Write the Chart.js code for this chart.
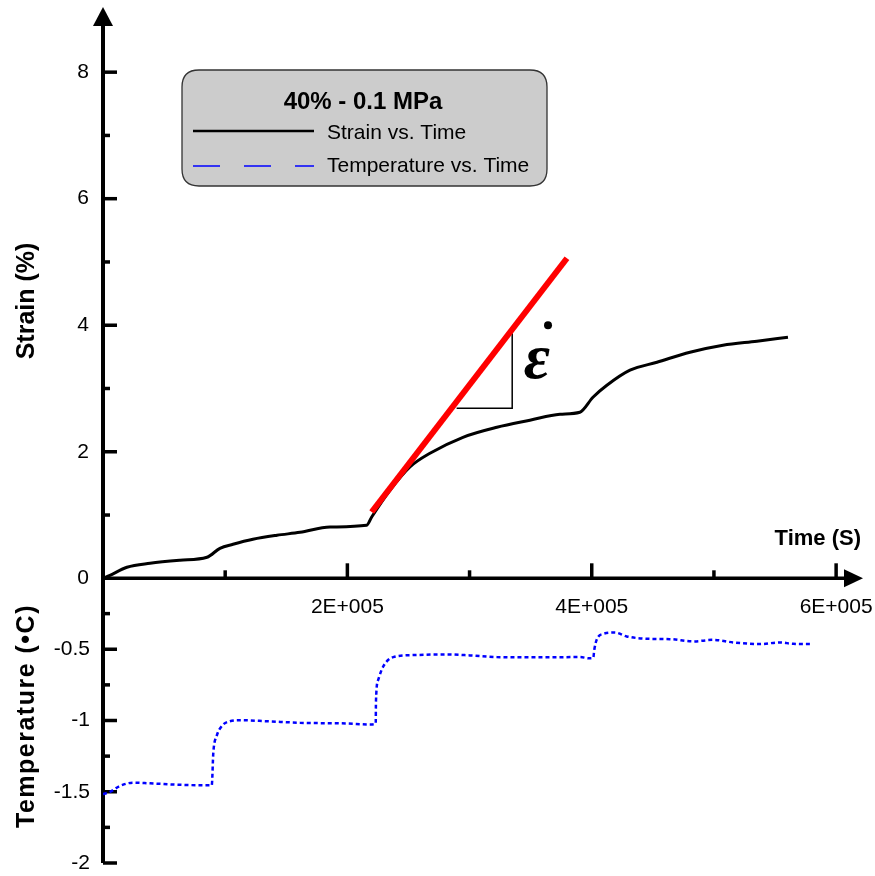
<!DOCTYPE html>
<html><head><meta charset="utf-8">
<script src="https://cdn.jsdelivr.net/npm/chart.js@4/dist/chart.umd.min.js"></script>
<style>html,body{margin:0;padding:0;background:#fff;}#wrap{width:875px;height:876px;}</style>
</head><body><div id="wrap"><canvas id="c" width="875" height="876"></canvas></div>
<script>
// ---- data (time in seconds) ----
const strainTime = [0, 5700, 19600, 38500, 63000, 85100, 95700, 106400, 122700, 142400, 161200, 185800, 215800, 219900, 234900, 251200, 267600, 294600, 322400, 349400, 374000, 390300, 401000, 412400, 431300, 453400, 480400, 507400, 535200, 560600];
const strainValues = [0, 0.047, 0.174, 0.237, 0.285, 0.332, 0.474, 0.538, 0.617, 0.680, 0.727, 0.811, 0.838, 0.969, 1.391, 1.760, 1.976, 2.229, 2.387, 2.498, 2.593, 2.625, 2.862, 3.051, 3.289, 3.415, 3.573, 3.684, 3.747, 3.810];
const tempTime = [0, 5700, 13900, 24800, 38500, 65700, 89000, 90300, 93000, 97100, 103900, 112100, 134000, 161200, 199400, 218500, 223200, 223400, 225300, 229400, 237600, 253900, 281300, 300300, 322200, 349400, 390300, 398500, 401200, 402100, 404000, 409400, 419000, 428600, 447600, 464000, 483100, 499400, 515800, 537600, 554000, 564900, 580000];
const tempValues = [-1.517, -1.501, -1.459, -1.436, -1.441, -1.452, -1.455, -1.224, -1.110, -1.040, -1.005, -0.998, -1.005, -1.016, -1.021, -1.028, -1.023, -0.865, -0.713, -0.620, -0.555, -0.541, -0.536, -0.543, -0.555, -0.557, -0.555, -0.564, -0.562, -0.503, -0.434, -0.392, -0.383, -0.410, -0.427, -0.429, -0.445, -0.434, -0.452, -0.464, -0.452, -0.462, -0.464];
const fitTime = [219900, 379700];
const fitStrain = [1.048, 5.059];
const slopeTime = [289400, 334900, 334900];
const slopeStrain = [2.688, 2.688, 3.873];
// ---- ticks ----
const strainMajorTicks = [0, 2, 4, 6, 8];
const strainMinorTicks = [1, 3, 5, 7];
const tempMajorTicks = [-0.5, -1, -1.5, -2];
const tempMinorTicks = [-0.25, -0.75, -1.25, -1.75];
const timeMajorTicks = [200000, 400000, 600000];
const timeMinorTicks = [100000, 300000, 500000];
const timeTickLabels = ['2E+005', '4E+005', '6E+005'];
const legendTitle = '40% - 0.1 MPa';
const strainLabel = 'Strain vs. Time';
const tempLabel = 'Temperature vs. Time';

const pts = (xs, ys) => xs.map((x, i) => ({x: x, y: ys[i]}));
const SANS = '"Liberation Sans", Arial, sans-serif';

const drawPlugin = {
  id: 'custom',
  beforeDatasetsDraw(chart) {
    const ctx = chart.ctx, sx = chart.scales.x, ss = chart.scales.y, st = chart.scales.yT, a = chart.chartArea;
    const x0 = sx.getPixelForValue(0), y0 = ss.getPixelForValue(0);
    ctx.save();
    ctx.strokeStyle = '#000'; ctx.fillStyle = '#000'; ctx.lineCap = 'butt';
    // vertical axis + arrow
    ctx.lineWidth = 4;
    ctx.beginPath(); ctx.moveTo(x0, a.top + 16); ctx.lineTo(x0, st.getPixelForValue(-2)); ctx.stroke();
    ctx.beginPath(); ctx.moveTo(x0, a.top); ctx.lineTo(x0 - 10, a.top + 19); ctx.lineTo(x0 + 10, a.top + 19); ctx.closePath(); ctx.fill();
    // horizontal axis + arrow
    ctx.lineWidth = 3.5;
    ctx.beginPath(); ctx.moveTo(x0 - 2, y0); ctx.lineTo(a.right - 16, y0); ctx.stroke();
    ctx.beginPath(); ctx.moveTo(a.right, y0); ctx.lineTo(a.right - 19, y0 - 9); ctx.lineTo(a.right - 19, y0 + 9); ctx.closePath(); ctx.fill();
    // ticks
    const hTick = (py, len) => { ctx.beginPath(); ctx.moveTo(x0, py); ctx.lineTo(x0 + len, py); ctx.stroke(); };
    const vTick = (px, len) => { ctx.beginPath(); ctx.moveTo(px, y0); ctx.lineTo(px, y0 - len); ctx.stroke(); };
    ctx.lineWidth = 3.5;
    strainMajorTicks.forEach(v => { if (v !== 0) hTick(ss.getPixelForValue(v), 14); });
    strainMinorTicks.forEach(v => hTick(ss.getPixelForValue(v), 7));
    tempMajorTicks.forEach(v => hTick(st.getPixelForValue(v), 14));
    tempMinorTicks.forEach(v => hTick(st.getPixelForValue(v), 7));
    timeMajorTicks.forEach(v => vTick(sx.getPixelForValue(v), 15));
    timeMinorTicks.forEach(v => vTick(sx.getPixelForValue(v), 8));
    // tick labels
    ctx.font = '21px ' + SANS;
    ctx.textAlign = 'right'; ctx.textBaseline = 'middle';
    strainMajorTicks.forEach(v => ctx.fillText(String(v), x0 - 14, ss.getPixelForValue(v)));
    tempMajorTicks.forEach(v => ctx.fillText(String(v), x0 - 13, st.getPixelForValue(v)));
    ctx.textAlign = 'center';
    timeMajorTicks.forEach((v, i) => ctx.fillText(timeTickLabels[i], sx.getPixelForValue(v), y0 + 29));
    // axis titles
    ctx.font = 'bold 25px ' + SANS;
    ctx.save(); ctx.translate(27, 301); ctx.rotate(-Math.PI / 2); ctx.fillText('Strain (%)', 0, 0); ctx.restore();
    ctx.save(); ctx.translate(27, 716); ctx.rotate(-Math.PI / 2);
    if ('letterSpacing' in ctx) ctx.letterSpacing = '1.5px';
    ctx.fillText('Temperature (•C)', 0, 0); ctx.restore();
    ctx.font = 'bold 22px ' + SANS;
    ctx.textAlign = 'right';
    ctx.fillText('Time (S)', a.right - 2, 539);
    ctx.restore();
  },
  afterDatasetsDraw(chart) {
    const ctx = chart.ctx, sx = chart.scales.x, ss = chart.scales.y;
    ctx.save();
    // strain-rate symbol
    ctx.fillStyle = '#000';
    ctx.font = 'italic bold 64px "Liberation Serif", "DejaVu Serif", serif';
    ctx.textAlign = 'center'; ctx.textBaseline = 'alphabetic';
    ctx.fillText('ε', sx.getPixelForValue(355000), ss.getPixelForValue(3.17));
    ctx.beginPath(); ctx.arc(sx.getPixelForValue(364200), ss.getPixelForValue(4.0), 4, 0, Math.PI * 2); ctx.fill();
    // legend box
    const L = 182, T = 70, R = 547, B = 186, rad = 17;
    ctx.beginPath();
    ctx.moveTo(L + rad, T); ctx.lineTo(R - rad, T); ctx.quadraticCurveTo(R, T, R, T + rad);
    ctx.lineTo(R, B - rad); ctx.quadraticCurveTo(R, B, R - rad, B);
    ctx.lineTo(L + rad, B); ctx.quadraticCurveTo(L, B, L, B - rad);
    ctx.lineTo(L, T + rad); ctx.quadraticCurveTo(L, T, L + rad, T); ctx.closePath();
    ctx.fillStyle = '#cccccc'; ctx.fill();
    ctx.lineWidth = 1.3; ctx.strokeStyle = '#333'; ctx.stroke();
    ctx.fillStyle = '#000';
    ctx.font = 'bold 24px ' + SANS; ctx.textAlign = 'center'; ctx.textBaseline = 'middle';
    ctx.fillText(legendTitle, 363, 102);
    ctx.strokeStyle = '#000'; ctx.lineWidth = 2.5;
    ctx.beginPath(); ctx.moveTo(193, 131); ctx.lineTo(314, 131); ctx.stroke();
    ctx.strokeStyle = '#0000ff'; ctx.lineWidth = 1.5; ctx.setLineDash([27, 24]);
    ctx.beginPath(); ctx.moveTo(193, 166); ctx.lineTo(314, 166); ctx.stroke();
    ctx.setLineDash([]);
    ctx.font = '21px ' + SANS; ctx.textAlign = 'left';
    ctx.fillText(strainLabel, 327, 133);
    ctx.fillText(tempLabel, 327, 166);
    ctx.restore();
  }
};

new Chart(document.getElementById('c'), {
  type: 'scatter',
  data: {
    datasets: [
      {label: 'Fit', data: pts(fitTime, fitStrain), yAxisID: 'y', showLine: true, borderColor: '#ff0000', borderWidth: 6, pointRadius: 0, order: 0},
      {label: 'Slope', data: pts(slopeTime, slopeStrain), yAxisID: 'y', showLine: true, borderColor: '#000', borderWidth: 1.5, pointRadius: 0, order: 1},
      {label: strainLabel, data: pts(strainTime, strainValues), yAxisID: 'y', showLine: true, borderColor: '#000', borderWidth: 3, pointRadius: 0, cubicInterpolationMode: 'monotone', order: 2},
      {label: tempLabel, data: pts(tempTime, tempValues), yAxisID: 'yT', showLine: true, borderColor: '#0000ff', borderWidth: 2.5, borderDash: [4, 3], pointRadius: 0, cubicInterpolationMode: 'monotone', order: 3}
    ]
  },
  options: {
    responsive: false, animation: false, devicePixelRatio: 1,
    layout: {padding: {left: 103, right: 12, top: 7, bottom: 13}},
    plugins: {legend: {display: false}, tooltip: {enabled: false}},
    scales: {
      x: {type: 'linear', min: 0, max: 622000, display: false},
      y: {type: 'linear', min: -4.5, max: 9.03, display: false},
      yT: {type: 'linear', min: -2, max: 4.007, display: false}
    }
  },
  plugins: [drawPlugin]
});
</script></body></html>
